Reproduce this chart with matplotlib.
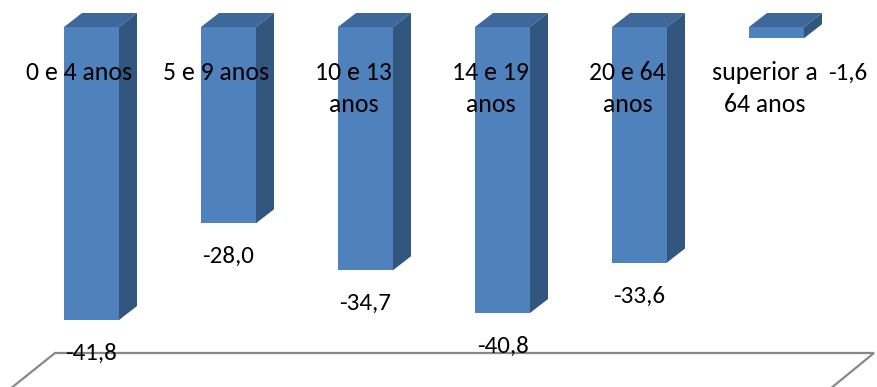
import matplotlib
matplotlib.use('Agg')
import matplotlib.pyplot as plt
from matplotlib.patches import Polygon
from matplotlib import font_manager

categories = ['0 e 4 anos', '5 e 9 anos', '10 e 13\nanos', '14 e 19\nanos',
              '20 e 64\nanos', 'superior a\n64 anos']
values = [-41.8, -28.0, -34.7, -40.8, -33.6, -1.6]
value_labels = [f'{v:.1f}'.replace('.', ',') for v in values]

names = {f.name for f in font_manager.fontManager.ttflist}
font = 'Carlito' if 'Carlito' in names else 'Lato'

W, H = 877, 387
fig = plt.figure(figsize=(W / 100, H / 100), dpi=100)
ax = fig.add_axes([0, 0, 1, 1])

# pixel geometry of the original 3D chart
x_step = 137.0     # px per category
x_zero = 91.5      # px of first bar's front centre
y_scale = 7.01     # px per unit
y_zero = 27.0      # px from top for value 0
ax.set_xlim(-x_zero / x_step, (W - x_zero) / x_step)
ax.set_ylim(-(H - y_zero) / y_scale, y_zero / y_scale)
ax.axis('off')


def px2x(px):
    return (px - x_zero) / x_step


def px2y(py):
    return -(py - y_zero) / y_scale


w = 55 / x_step
dx = 18 / x_step
dy = 14 / y_scale

front_c = '#4F81BD'
top_c = '#3D6899'
side_c = '#33567F'

# floor
floor = Polygon([(px2x(55), px2y(353)), (px2x(874), px2y(353)),
                 (px2x(830), px2y(389)), (px2x(10), px2y(389))],
                closed=True, facecolor='white', edgecolor='#888888', lw=1.6)
ax.add_patch(floor)

for i, v in enumerate(values):
    l, r = i - w / 2, i + w / 2
    ax.add_patch(Polygon([(l, 0), (r, 0), (r + dx, dy), (l + dx, dy)],
                         closed=True, facecolor=top_c, edgecolor='none'))
    ax.add_patch(Polygon([(r, 0), (r + dx, dy), (r + dx, v + dy), (r, v)],
                         closed=True, facecolor=side_c, edgecolor='none'))
    ax.add_patch(Polygon([(l, 0), (r, 0), (r, v), (l, v)],
                         closed=True, facecolor=front_c, edgecolor='none'))

for i, (cat, v, lab) in enumerate(zip(categories, values, value_labels)):
    for k, line in enumerate(cat.split('\n')):
        ax.text(i - 12 / x_step, px2y(80 + 32 * k), line, ha='center',
                va='baseline', fontsize=18.5, family=font)
    if i == len(values) - 1:
        ax.text(px2x(848), px2y(80), lab, ha='center', va='baseline',
                fontsize=18, family=font)
    else:
        ax.text(i, v - 40 / y_scale, lab, ha='center', va='baseline',
                fontsize=18, family=font)

fig.savefig('out.png', dpi=100)
